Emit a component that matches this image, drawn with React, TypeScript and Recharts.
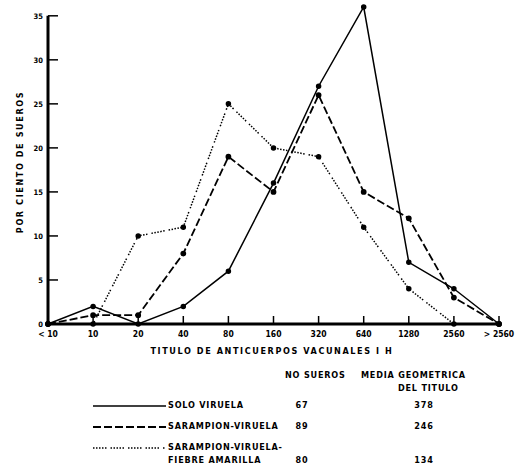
import React from "react";
import { LineChart, Line, XAxis, YAxis, ReferenceLine } from "recharts";

const categories = ["< 10", "10", "20", "40", "80", "160", "320", "640", "1280", "2560", "> 2560"];
const soloViruela = [0, 2, 0, 2, 6, 16, 27, 36, 7, 4, 0];
const sarampionViruela = [0, 1, 1, 8, 19, 15, 26, 15, 12, 3, 0];
const sarampionFiebre = [0, 0, 10, 11, 25, 20, 19, 11, 4, 0, 0];
const yTicks = [0, 5, 10, 15, 20, 25, 30, 35];

const DOTTED = "1.5 1.5 1.5 1.5 1.5 1.5 1.5 1.5 1.5 4";

const legendRows = [
  { key: "solo", label: ["SOLO VIRUELA"], sueros: "67", media: "378", dash: undefined as string | undefined, width: 1.5 },
  { key: "sar", label: ["SARAMPION-VIRUELA"], sueros: "89", media: "246", dash: "8 3", width: 1.8 },
  { key: "fie", label: ["SARAMPION-VIRUELA-", "FIEBRE AMARILLA"], sueros: "80", media: "134", dash: DOTTED, width: 1.5 },
];

const data = categories.map((c, i) => ({
  cat: c,
  solo: soloViruela[i],
  sar: sarampionViruela[i],
  fie: sarampionFiebre[i],
}));

const FONT = "'DejaVu Sans Condensed', 'DejaVu Sans', sans-serif";

const XTick = (props: any) => {
  const { x, y, payload } = props;
  return (
    <g>
      <line x1={x} y1={y} x2={x} y2={y - 8} stroke="#000" strokeWidth={1.5} />
      <text x={x} y={y + 13} textAnchor="middle" fontFamily={FONT} fontWeight="bold" fontSize={8.5} fill="#000">
        {payload.value}
      </text>
    </g>
  );
};

const YTick = (props: any) => {
  const { x, y, payload } = props;
  return (
    <g>
      <line x1={x} y1={y} x2={x + 10} y2={y} stroke="#000" strokeWidth={1.5} />
      <text x={x - 5} y={y + 3} textAnchor="end" fontFamily={FONT} fontWeight="bold" fontSize={7.5} fill="#000">
        {payload.value}
      </text>
    </g>
  );
};

const textStyle: React.CSSProperties = {
  fontFamily: FONT,
  fontWeight: "bold",
  fontSize: 9,
  letterSpacing: 0.8,
  color: "#000",
  position: "absolute",
  whiteSpace: "nowrap",
  lineHeight: "13px",
};

const LegendContent = () => (
  <div style={{ position: "absolute", left: 0, top: 369, width: 519, height: 100 }}>
    <div style={{ ...textStyle, left: 285, top: 0 }}>NO SUEROS</div>
    <div style={{ ...textStyle, left: 361, top: 0 }}>MEDIA GEOMETRICA</div>
    <div style={{ ...textStyle, left: 398, top: 13 }}>DEL TITULO</div>
    {legendRows.map((r, i) => {
      const top = [31, 52, 73][i];
      const lineY = 6;
      return (
        <div key={r.key}>
          <svg style={{ position: "absolute", left: 90, top }} width={80} height={12}>
            <line x1={3} y1={lineY} x2={76} y2={lineY} stroke="#000" strokeWidth={r.width} strokeDasharray={r.dash} />
          </svg>
          <div style={{ ...textStyle, left: 168, top: top - 1 }}>
            {r.label.map((l) => (
              <div key={l}>{l}</div>
            ))}
          </div>
          <div style={{ ...textStyle, left: 302, top: top - 1 + (r.label.length - 1) * 13, transform: "translateX(-50%)" }}>{r.sueros}</div>
          <div style={{ ...textStyle, left: 424, top: top - 1 + (r.label.length - 1) * 13, transform: "translateX(-50%)" }}>{r.media}</div>
        </div>
      );
    })}
  </div>
);

export default function App() {
  return (
    <div style={{ position: "absolute", left: 0, top: 0, width: 519, height: 469, background: "#fff" }}>
      <LineChart width={519} height={469} data={data} margin={{ top: 7, right: 20, left: 20, bottom: 125 }}>
        <XAxis
          dataKey="cat"
          padding={{ left: 0, right: 0 }}
          axisLine={{ stroke: "#000", strokeWidth: 3 }}
          tickLine={false}
          tickSize={0}
          tickMargin={0}
          interval={0}
          height={20}
          tick={<XTick />}
        />
        <YAxis
          width={28}
          domain={[0, 36]}
          ticks={yTicks}
          axisLine={false}
          tickLine={false}
          tickSize={0}
          tickMargin={0}
          tick={<YTick />}
        />
        <ReferenceLine
          segment={[
            { x: categories[0], y: 0 },
            { x: categories[0], y: 35 },
          ]}
          stroke="#000"
          strokeWidth={3}
        />
        <Line dataKey="solo" stroke="#000" strokeWidth={1.5} dot={{ r: 2, fill: "#000", stroke: "#000" }} isAnimationActive={false} />
        <Line dataKey="sar" stroke="#000" strokeWidth={1.8} strokeDasharray="8 3" dot={{ r: 2, fill: "#000", stroke: "#000", strokeDasharray: "" }} isAnimationActive={false} />
        <Line dataKey="fie" stroke="#000" strokeWidth={1.5} strokeDasharray={DOTTED} dot={{ r: 2, fill: "#000", stroke: "#000", strokeDasharray: "" }} isAnimationActive={false} />
      </LineChart>
      <LegendContent />
      <div style={{ ...textStyle, left: 272, top: 345, transform: "translateX(-50%)", letterSpacing: 1.6 }}>
        TITULO DE ANTICUERPOS VACUNALES I H
      </div>
      <div
        style={{
          ...textStyle,
          left: 20,
          top: 162,
          transform: "translate(-50%, -50%) rotate(-90deg)",
          letterSpacing: 1.6,
        }}
      >
        POR CIENTO DE SUEROS
      </div>
    </div>
  );
}
